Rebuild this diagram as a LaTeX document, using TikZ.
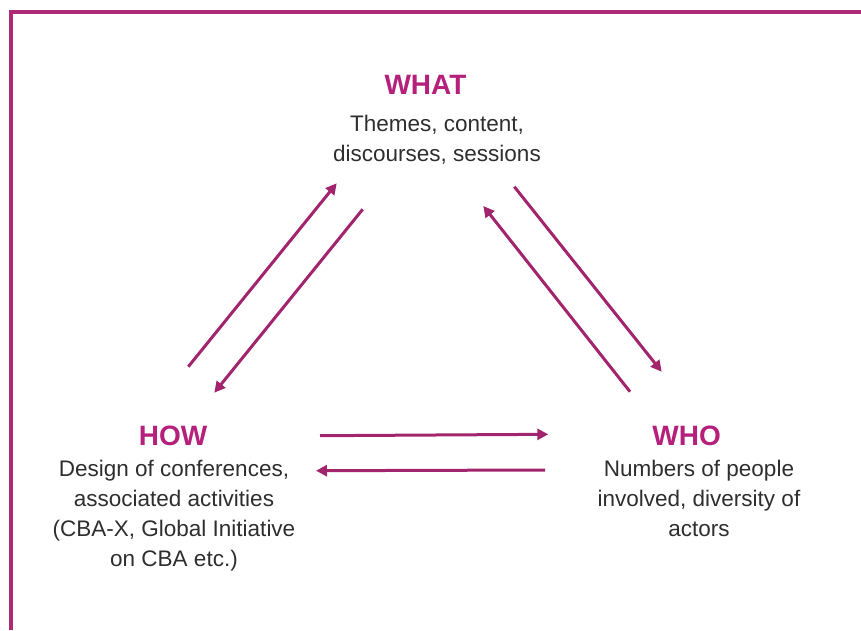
\documentclass[tikz,border=0pt]{standalone}
\usepackage{fontspec}
\setmainfont{Liberation Sans}
\usetikzlibrary{arrows.meta}
\definecolor{framecol}{HTML}{AE2A74}
\definecolor{headcol}{HTML}{B5207B}
\definecolor{arrcol}{HTML}{A1246C}
\definecolor{txtcol}{HTML}{2E2E2E}
\begin{document}
\begin{tikzpicture}[x=1pt,y=-1pt,
  heading/.style={anchor=base,inner sep=0pt,text=headcol,font=\fontsize{28}{32}\selectfont\bfseries},
  body/.style={anchor=north,inner sep=0pt,align=center,text=txtcol,font=\fontsize{22.5}{30}\selectfont},
  link/.style={draw=arrcol,line width=3pt,-{Triangle[length=11pt,width=11pt]}},
  frameline/.style={draw=framecol,line width=4.3pt}]
\useasboundingbox (0,0) rectangle (861,630);
% frame
\coordinate (fbl) at (11.2,630);
\coordinate (ftl) at (11.2,11.7);
\coordinate (ftr) at (861,11.7);
\draw[frameline] (fbl) -- (ftl) -- (ftr);
% headings
\node[heading] (what) at (425.5,94.3) {WHAT};
\node[heading] (how) at (173,445) {HOW};
\node[heading] (who) at (686.7,445) {WHO};
% bodies
\node[body] (whatb) at (437,114.5) {Themes, content,\\discourses, sessions};
\node[body] (howb) at (174,460.4) {Design of conferences,\\associated activities\\(CBA-X, Global Initiative\\on CBA etc.)};
\node[body] (whob) at (699,460.4) {Numbers of people\\involved, diversity of\\actors};
% arrow end points
\coordinate (a1s) at (188.3,366.7);
\coordinate (a1e) at (336.7,183.3);
\coordinate (a2s) at (362.7,209.3);
\coordinate (a2e) at (214.3,392.7);
\coordinate (a3s) at (514.3,186.7);
\coordinate (a3e) at (661.7,371.7);
\coordinate (a4s) at (630,391.7);
\coordinate (a4e) at (483.3,206);
\coordinate (a5s) at (320,435.7);
\coordinate (a5e) at (548.3,434.3);
\coordinate (a6s) at (545,470);
\coordinate (a6e) at (316,470.7);
\draw[link] (a1s) -- (a1e);
\draw[link] (a2s) -- (a2e);
\draw[link] (a3s) -- (a3e);
\draw[link] (a4s) -- (a4e);
\draw[link] (a5s) -- (a5e);
\draw[link] (a6s) -- (a6e);
\end{tikzpicture}
\end{document}
